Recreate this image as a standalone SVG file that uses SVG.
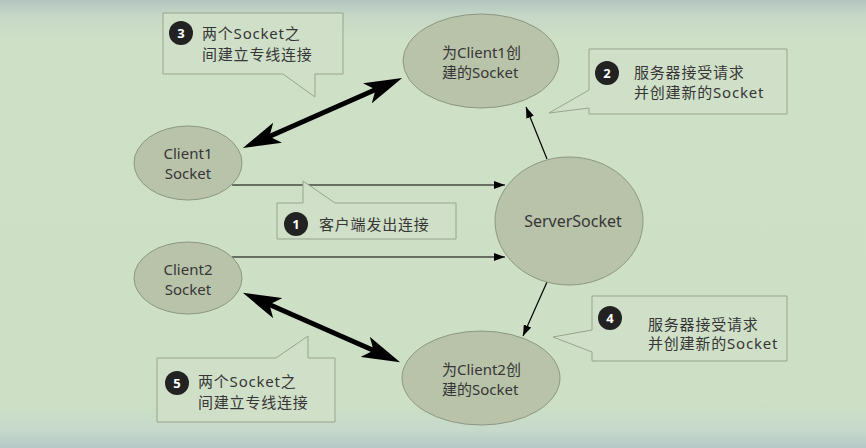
<svg xmlns="http://www.w3.org/2000/svg" width="866" height="448" viewBox="0 0 866 448">
<defs>
<linearGradient id="bg" x1="0" y1="0" x2="0" y2="1">
<stop offset="0" stop-color="#b3c4c0"/>
<stop offset="0.035" stop-color="#c6d8c6"/>
<stop offset="0.09" stop-color="#cee0c6"/>
<stop offset="0.9" stop-color="#cde0c5"/>
<stop offset="0.96" stop-color="#c6d9cb"/>
<stop offset="1" stop-color="#b5c8c6"/>
</linearGradient>
<marker id="thin" viewBox="0 0 11 8" refX="11" refY="4" markerWidth="11" markerHeight="8" markerUnits="userSpaceOnUse" orient="auto">
<path d="M0,0 L11,4 L0,8 Z" fill="#000"/>
</marker>
<marker id="thick" viewBox="0 -11 38 22" refX="16" refY="0" markerWidth="38" markerHeight="22" markerUnits="userSpaceOnUse" orient="auto-start-reverse">
<path d="M0,-11 L38,0 L0,11 L9,0 Z" fill="#000"/>
</marker>
</defs>
<style>
.node ellipse{fill:#b9c3aa;stroke:#8d9783;stroke-width:1}
.lbl{font-family:"Noto Sans","Noto Sans CJK SC",sans-serif;font-size:15px;fill:#363636}
.call path{fill:#d0e0c8;stroke:#98a48f;stroke-width:1}
.call circle{fill:#222}
.num{font-family:"Noto Sans",sans-serif;font-size:13px;font-weight:bold;fill:#fff;text-anchor:middle}
.ct{font-family:"Noto Sans","Noto Sans CJK SC",sans-serif;font-size:15px;fill:#363636;letter-spacing:0.8px}
.thin{stroke:#000;stroke-width:1.2;fill:none;marker-end:url(#thin)}
.thick{stroke:#000;stroke-width:5;fill:none;marker-start:url(#thick);marker-end:url(#thick)}
</style>
<rect width="866" height="448" fill="url(#bg)"/>

<g id="connectors">
<line class="thin" x1="232" y1="185" x2="505" y2="185"/>
<line class="thin" x1="232" y1="257" x2="505" y2="257"/>
<line class="thin" x1="547" y1="159" x2="526" y2="107"/>
<line class="thin" x1="547" y1="282" x2="523" y2="336"/>
<line class="thick" x1="263" y1="139.2" x2="382" y2="86.8"/>
<line class="thick" x1="263" y1="301.7" x2="380" y2="353.3"/>
</g>

<g id="client1" class="node">
<ellipse cx="188" cy="163" rx="54" ry="37"/>
<text class="lbl" x="188" y="159" text-anchor="middle">Client1</text>
<text class="lbl" x="188" y="179" text-anchor="middle">Socket</text>
</g>
<g id="client2" class="node">
<ellipse cx="188" cy="278" rx="54" ry="36"/>
<text class="lbl" x="188" y="275" text-anchor="middle">Client2</text>
<text class="lbl" x="188" y="295" text-anchor="middle">Socket</text>
</g>
<g id="serversocket" class="node">
<ellipse cx="569" cy="221" rx="74" ry="64"/>
<text class="lbl" x="573" y="227" text-anchor="middle" style="font-size:16px">ServerSocket</text>
</g>
<g id="socket1" class="node">
<ellipse cx="481" cy="61" rx="78" ry="47"/>
<text class="lbl" x="442" y="58">为Client1创</text>
<text class="lbl" x="442" y="78">建的Socket</text>
</g>
<g id="socket2" class="node">
<ellipse cx="481" cy="378" rx="79" ry="47"/>
<text class="lbl" x="442" y="375">为Client2创</text>
<text class="lbl" x="442" y="395">建的Socket</text>
</g>

<g id="callout1" class="call">
<path d="M277,203 H303 V181 L335,203 H456 V239 H277 Z"/>
<circle cx="296" cy="224" r="12"/>
<text class="num" x="296" y="229">1</text>
<text class="ct" x="319" y="230">客户端发出连接</text>
</g>
<g id="callout2" class="call">
<path d="M589,49 H787 V114 H589 V108 L549,113 L589,90 Z"/>
<circle cx="607" cy="73" r="12"/>
<text class="num" x="607" y="78">2</text>
<text class="ct" x="634" y="78">服务器接受请求</text>
<text class="ct" x="634" y="98">并创建新的Socket</text>
</g>
<g id="callout3" class="call">
<path d="M163,13 H343 V74 H315 V97 L283,74 H163 Z"/>
<circle cx="181" cy="33" r="12"/>
<text class="num" x="181" y="38">3</text>
<text class="ct" x="202" y="39">两个Socket之</text>
<text class="ct" x="202" y="60">间建立专线连接</text>
</g>
<g id="callout4" class="call">
<path d="M592,296 H787 V361 H592 V352 L553,337 L592,330 Z"/>
<circle cx="610" cy="318" r="12"/>
<text class="num" x="610" y="323">4</text>
<text class="ct" x="648" y="330">服务器接受请求</text>
<text class="ct" x="648" y="349">并创建新的Socket</text>
</g>
<g id="callout5" class="call">
<path d="M157,358 H276 L308,336 V358 H335 V422 H157 Z"/>
<circle cx="177" cy="383" r="12"/>
<text class="num" x="177" y="388">5</text>
<text class="ct" x="198" y="387">两个Socket之</text>
<text class="ct" x="198" y="408">间建立专线连接</text>
</g>
</svg>
